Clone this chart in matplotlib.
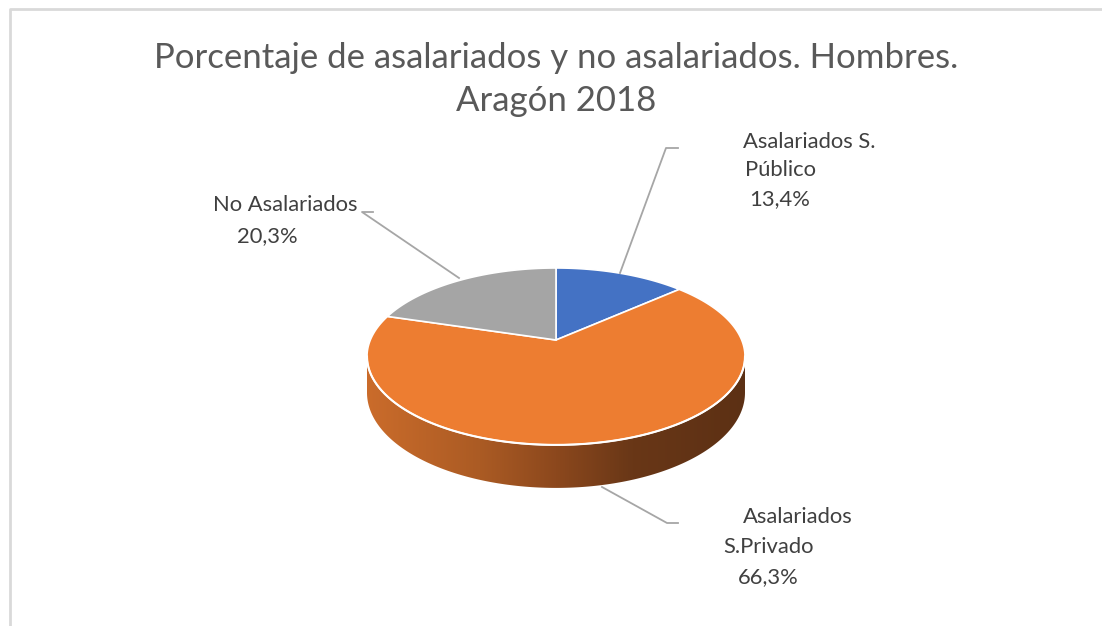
import numpy as np
import matplotlib
matplotlib.use('Agg')
import matplotlib.pyplot as plt
from matplotlib.patches import Polygon
from matplotlib.colors import LinearSegmentedColormap

# Datos del gráfico
categorias = ['Asalariados S. Público', 'Asalariados S.Privado', 'No Asalariados']
porcentajes = [13.4, 66.3, 20.3]
colores = ['#4472c4', '#ed7d31', '#a5a5a5']
lineas_etiqueta = [['Asalariados S.', 'Público'], ['Asalariados', 'S.Privado'], ['No Asalariados']]
lineas_titulo = ['Porcentaje de asalariados y no asalariados. Hombres.', 'Aragón 2018']

plt.rcParams['font.family'] = ['Lato', 'DejaVu Sans']

fig = plt.figure(figsize=(11.02, 6.26), dpi=100)
ax = fig.add_axes([0, 0, 1, 1])
ax.set_xlim(0, 1102)
ax.set_ylim(626, 0)
ax.axis('off')

# borde del gráfico
ax.plot([9.5, 9.5, 1102], [626, 8.5, 8.5], color='#d9d9d9', lw=2, solid_capstyle='butt')

# geometría del pastel 3D (perspectiva)
cx, cy = 556, 340
A, B, k, D = 185.7, 85.4, 0.186, 35.0


def proyectar(phi_deg, bajada=0.0):
    phi = np.radians(phi_deg)
    u = np.sin(phi)
    v = -np.cos(phi)
    w = 1 - k * v
    return cx + A * u / w, cy + B * v / w + bajada / w


limites = np.concatenate([[0], np.cumsum(porcentajes) / sum(porcentajes) * 360])
frente_ini = np.degrees(np.arccos(-k))
frente_fin = 360 - frente_ini

# caras laterales con degradado
cmap = LinearSegmentedColormap.from_list('lado', [
    (0.0, '#cb6c2b'), (0.3, '#ab5b24'), (0.5, '#8c481d'),
    (0.7, '#693717'), (1.0, '#5c3014')])
grad = np.linspace(0, 1, 256).reshape(1, -1)
for i in range(len(porcentajes)):
    a0 = max(limites[i], frente_ini)
    a1 = min(limites[i + 1], frente_fin)
    if a1 <= a0:
        continue
    ang = np.linspace(a0, a1, 200)
    xs, ys = proyectar(ang)
    xb, yb = proyectar(ang[::-1], D)
    pts = np.column_stack([np.concatenate([xs, xb]), np.concatenate([ys, yb])])
    lado = Polygon(pts, closed=True, facecolor='none', edgecolor='none')
    ax.add_patch(lado)
    im = ax.imshow(grad, cmap=cmap, extent=[cx - A - 5, cx + A + 5, 500, 340],
                   aspect='auto', interpolation='bilinear', zorder=1)
    im.set_clip_path(lado)

# cara superior
for i in range(len(porcentajes)):
    ang = np.linspace(limites[i], limites[i + 1], 300)
    xs, ys = proyectar(ang)
    pts = np.column_stack([np.concatenate([[cx], xs]), np.concatenate([[cy], ys])])
    ax.add_patch(Polygon(pts, closed=True, facecolor=colores[i], edgecolor='white',
                         lw=1.2, zorder=2))

# brillo del borde delantero
ang = np.linspace(frente_ini, frente_fin, 300)
xs, ys = proyectar(ang)
ax.plot(xs, ys, color='white', lw=1.5, zorder=3)

ax.set_xlim(0, 1102)
ax.set_ylim(626, 0)

# título
for t, yb in zip(lineas_titulo, [68, 111]):
    ax.text(556, yb, t, ha='center', va='baseline', fontsize=25, color='#595959')

# líneas guía
gris = '#a6a6a6'
ax.plot([678, 666, 620], [148, 148, 273], color=gris, lw=1.3)
ax.plot([373, 362, 459], [212, 212, 278], color=gris, lw=1.3)
ax.plot([602, 667, 678], [487, 523, 523], color=gris, lw=1.3)

# etiquetas
color_txt = '#404040'
fs = 15.8
pct = [f'{p:.1f}%'.replace('.', ',') for p in porcentajes]
pos_lineas = [
    [(743, 142), (745, 170), (749, 199)],
    [(743, 517), (723, 547), (738, 577)],
    [(213, 205), (237, 236)],
]
for i in range(len(porcentajes)):
    textos = lineas_etiqueta[i] + [pct[i]]
    for t, (x, y) in zip(textos, pos_lineas[i]):
        ax.text(x, y, t, ha='left', va='center', fontsize=fs, color=color_txt)

fig.savefig('out.png', dpi=100)
